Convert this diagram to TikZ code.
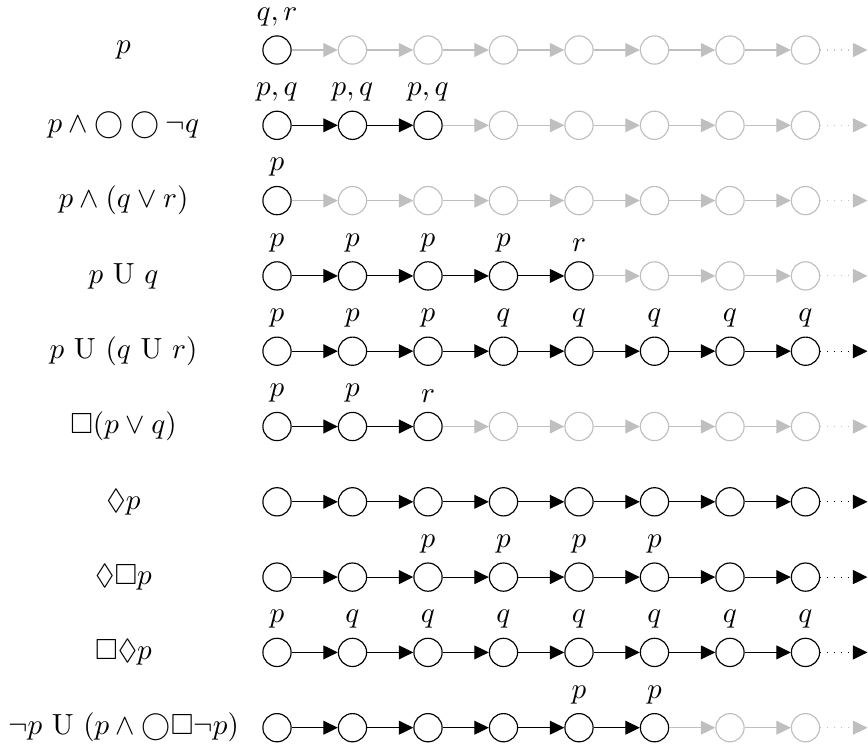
\documentclass[tikz,border=0pt]{standalone}
\usepackage{amssymb}
\usetikzlibrary{arrows.meta}
\definecolor{lg}{gray}{0.75}
\tikzset{
  st/.style={circle,draw=#1,minimum size=9.7pt,inner sep=0pt,line width=0.4pt},
  arr/.style={draw=#1,line width=0.4pt,-{Triangle[length=5pt,width=4.8pt,fill=#1]}},
  lab/.style={anchor=south,inner sep=3pt},
  formula/.style={inner sep=0pt}
}
\newcommand\ltlrow[3]{%
  \pgfmathsetmacro\rowy{50+75.3*(#1-1)}
  \node[formula] (f#1) at (123.5,\rowy) {$#2$};
  \foreach \i in {1,...,8}{
    \ifnum\i>#3\relax\def\rowcol{lg}\else\def\rowcol{black}\fi
    \node[st=\rowcol] (c#1-\i) at ({277+75.5*(\i-1)},\rowy) {};
  }
  \foreach \i in {1,...,7}{
    \pgfmathtruncatemacro\j{\i+1}
    \ifnum\j>#3\relax\def\rowcol{lg}\else\def\rowcol{black}\fi
    \draw[arr=\rowcol] (c#1-\i) -- (c#1-\j);
  }
  \ifnum#3<8\relax\def\rowcol{lg}\else\def\rowcol{black}\fi
  \coordinate (e#1) at (867.5,\rowy);
  \draw[arr=\rowcol,dotted] (c#1-8) -- (e#1);
}
\newcommand\ltllabels[2]{%
  \foreach \i/\t in {#2}{\node[lab] (l#1-\i) at (c#1-\i.north) {$\t$};}
}
\begin{document}
\begin{tikzpicture}[x=0.3436pt,y=-0.3436pt]
\useasboundingbox (0,0) rectangle (868,751);
\ltlrow{1}{p}{1}
\ltllabels{1}{1/{q,r}}
\ltlrow{2}{p \wedge \bigcirc \bigcirc \neg q}{3}
\ltllabels{2}{1/{p,q},2/{p,q},3/{p,q}}
\ltlrow{3}{p \wedge (q \vee r)}{1}
\ltllabels{3}{1/p}
\ltlrow{4}{p \ \mathrm{U}\ q}{5}
\ltllabels{4}{1/p,2/p,3/p,4/p,5/r}
\ltlrow{5}{p \ \mathrm{U}\ (q \ \mathrm{U}\ r)}{8}
\ltllabels{5}{1/p,2/p,3/p,4/q,5/q,6/q,7/q,8/q}
\ltlrow{6}{\Box(p \vee q)}{3}
\ltllabels{6}{1/p,2/p,3/r}
\ltlrow{7}{\Diamond p}{8}
\ltlrow{8}{\Diamond\Box p}{8}
\ltllabels{8}{3/p,4/p,5/p,6/p}
\ltlrow{9}{\Box\Diamond p}{8}
\ltllabels{9}{1/p,2/q,3/q,4/q,5/q,6/q,7/q,8/q}
\ltlrow{10}{\neg p \ \mathrm{U}\ (p \wedge \bigcirc\Box\neg p)}{6}
\ltllabels{10}{5/p,6/p}
\end{tikzpicture}
\end{document}
